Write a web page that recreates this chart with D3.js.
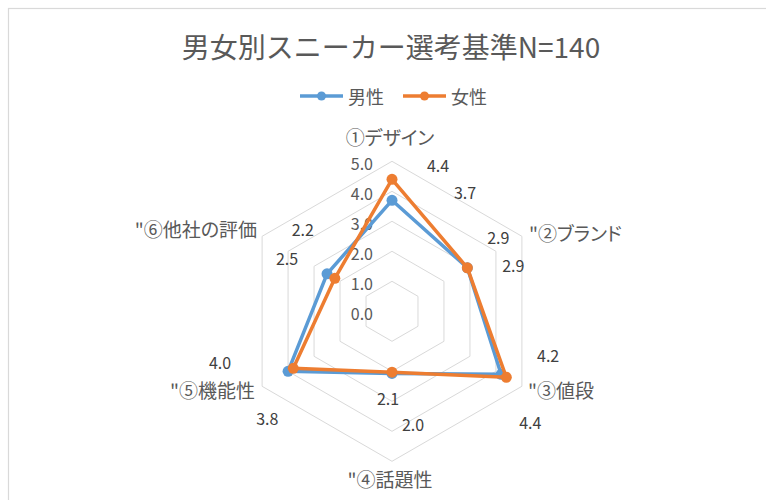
<!DOCTYPE html>
<html>
<head>
<meta charset="utf-8">
<script src="https://cdn.jsdelivr.net/npm/d3@7"></script>
<style>
  html, body { margin: 0; padding: 0; background: #ffffff; }
  svg { display: block; }
  text { font-family: "Noto Sans CJK JP", "Noto Sans", sans-serif; }
  .cat, .leg { font-feature-settings: "palt"; }
</style>
</head>
<body>
<script>
// ---- data ----
const title = "男女別スニーカー選考基準N=140";
const categories = ["①デザイン", "\"②ブランド", "\"③値段", "\"④話題性", "\"⑤機能性", "\"⑥他社の評価"];
const seriesNames = ["男性", "女性"];
const maleValues = [3.7, 2.9, 4.2, 2.07, 4.0, 2.5];
const femaleValues = [4.4, 2.9, 4.4, 2.03, 3.8, 2.2];
const tickValues = [0, 1, 2, 3, 4, 5];

// ---- layout / style ----
const W = 766, H = 500;
const cx = 392, cy = 311.3, R = 150;
const colors = ["#5B9BD5", "#ED7D31"];
// data-label offsets (px) from each point, per series
const labelOffsets = [
  [[73, -8], [31, -31], [47, -19], [-4, 25], [-68, -9], [-40, -16]],
  [[46, -14], [46, -3], [24, 45], [21, 52], [-26, 50], [-32, -49]]
];
// category label placement: offsets from outer vertex and anchors
const catOffsets = [[-2, -25], [7, -4], [6, 3], [-2, 17], [-7, 3], [-5, -8]];
const catAnchors = ["middle", "start", "start", "middle", "end", "end"];

const svg = d3.select("body").append("svg").attr("width", W).attr("height", H);

// chart border
svg.append("rect")
  .attr("x", 8.5).attr("y", 8.5).attr("width", 800).attr("height", 600)
  .attr("fill", "#fff").attr("stroke", "#d9d9d9").attr("stroke-width", 1.2);

// title
svg.append("text")
  .attr("x", 391).attr("y", 46)
  .attr("text-anchor", "middle").attr("dominant-baseline", "central")
  .attr("font-size", 28).attr("fill", "#595959")
  .text(title);

// scales
const n = categories.length;
const angle = d3.scalePoint().domain(d3.range(n + 1)).range([0, 2 * Math.PI]);
const r = d3.scaleLinear().domain([0, 5]).range([0, R]);
const px = (i, v) => cx + r(v) * Math.sin(angle(i));
const py = (i, v) => cy - r(v) * Math.cos(angle(i));

// grid rings
const g = svg.append("g");
tickValues.filter(t => t > 0).forEach(t => {
  const pts = d3.range(n).map(i => [px(i, t), py(i, t)]);
  g.append("path")
    .attr("d", d3.line().curve(d3.curveLinearClosed)(pts))
    .attr("fill", "none").attr("stroke", "#d9d9d9").attr("stroke-width", 1);
});

// tick labels
g.selectAll("text.tick").data(tickValues).join("text")
  .attr("class", "tick")
  .attr("x", cx - 19).attr("y", d => cy - r(d) + 1.5)
  .attr("text-anchor", "end").attr("dominant-baseline", "central")
  .attr("font-size", 16).attr("fill", "#595959")
  .text(d => d3.format(".1f")(d));

// category labels
g.selectAll("text.cat").data(categories).join("text")
  .attr("class", "cat")
  .attr("x", (d, i) => px(i, 5) + catOffsets[i][0])
  .attr("y", (d, i) => py(i, 5) + catOffsets[i][1])
  .attr("text-anchor", (d, i) => catAnchors[i]).attr("dominant-baseline", "central")
  .attr("font-size", 19).attr("fill", "#595959")
  .text(d => d);

// series
const series = [maleValues, femaleValues];
series.forEach((vals, s) => {
  const pts = vals.map((v, i) => [px(i, v), py(i, v)]);
  svg.append("path")
    .attr("d", d3.line().curve(d3.curveLinearClosed)(pts))
    .attr("fill", "none").attr("stroke", colors[s]).attr("stroke-width", 3.5)
    .attr("stroke-linejoin", "round");
  svg.append("g").selectAll("circle").data(vals).join("circle")
    .attr("cx", (v, i) => px(i, v)).attr("cy", (v, i) => py(i, v))
    .attr("r", 5.5).attr("fill", colors[s]);
});

// data labels
series.forEach((vals, s) => {
  svg.append("g").selectAll("text").data(vals).join("text")
    .attr("x", (v, i) => px(i, v) + labelOffsets[s][i][0])
    .attr("y", (v, i) => py(i, v) + labelOffsets[s][i][1])
    .attr("text-anchor", "middle").attr("dominant-baseline", "central")
    .attr("font-size", 16).attr("fill", "#404040")
    .text(v => d3.format(".1f")(v));
});

// legend
const legendX = [300, 403];
const leg = svg.append("g");
seriesNames.forEach((name, s) => {
  const x0 = legendX[s];
  leg.append("line").attr("x1", x0).attr("x2", x0 + 43).attr("y1", 96).attr("y2", 96)
    .attr("stroke", colors[s]).attr("stroke-width", 3.5);
  leg.append("circle").attr("cx", x0 + 21.5).attr("cy", 96).attr("r", 4.5).attr("fill", colors[s]);
  leg.append("text").attr("class", "leg").attr("x", x0 + 48).attr("y", 96)
    .attr("dominant-baseline", "central").attr("font-size", 18).attr("fill", "#595959")
    .text(name);
});
</script>
</body>
</html>
